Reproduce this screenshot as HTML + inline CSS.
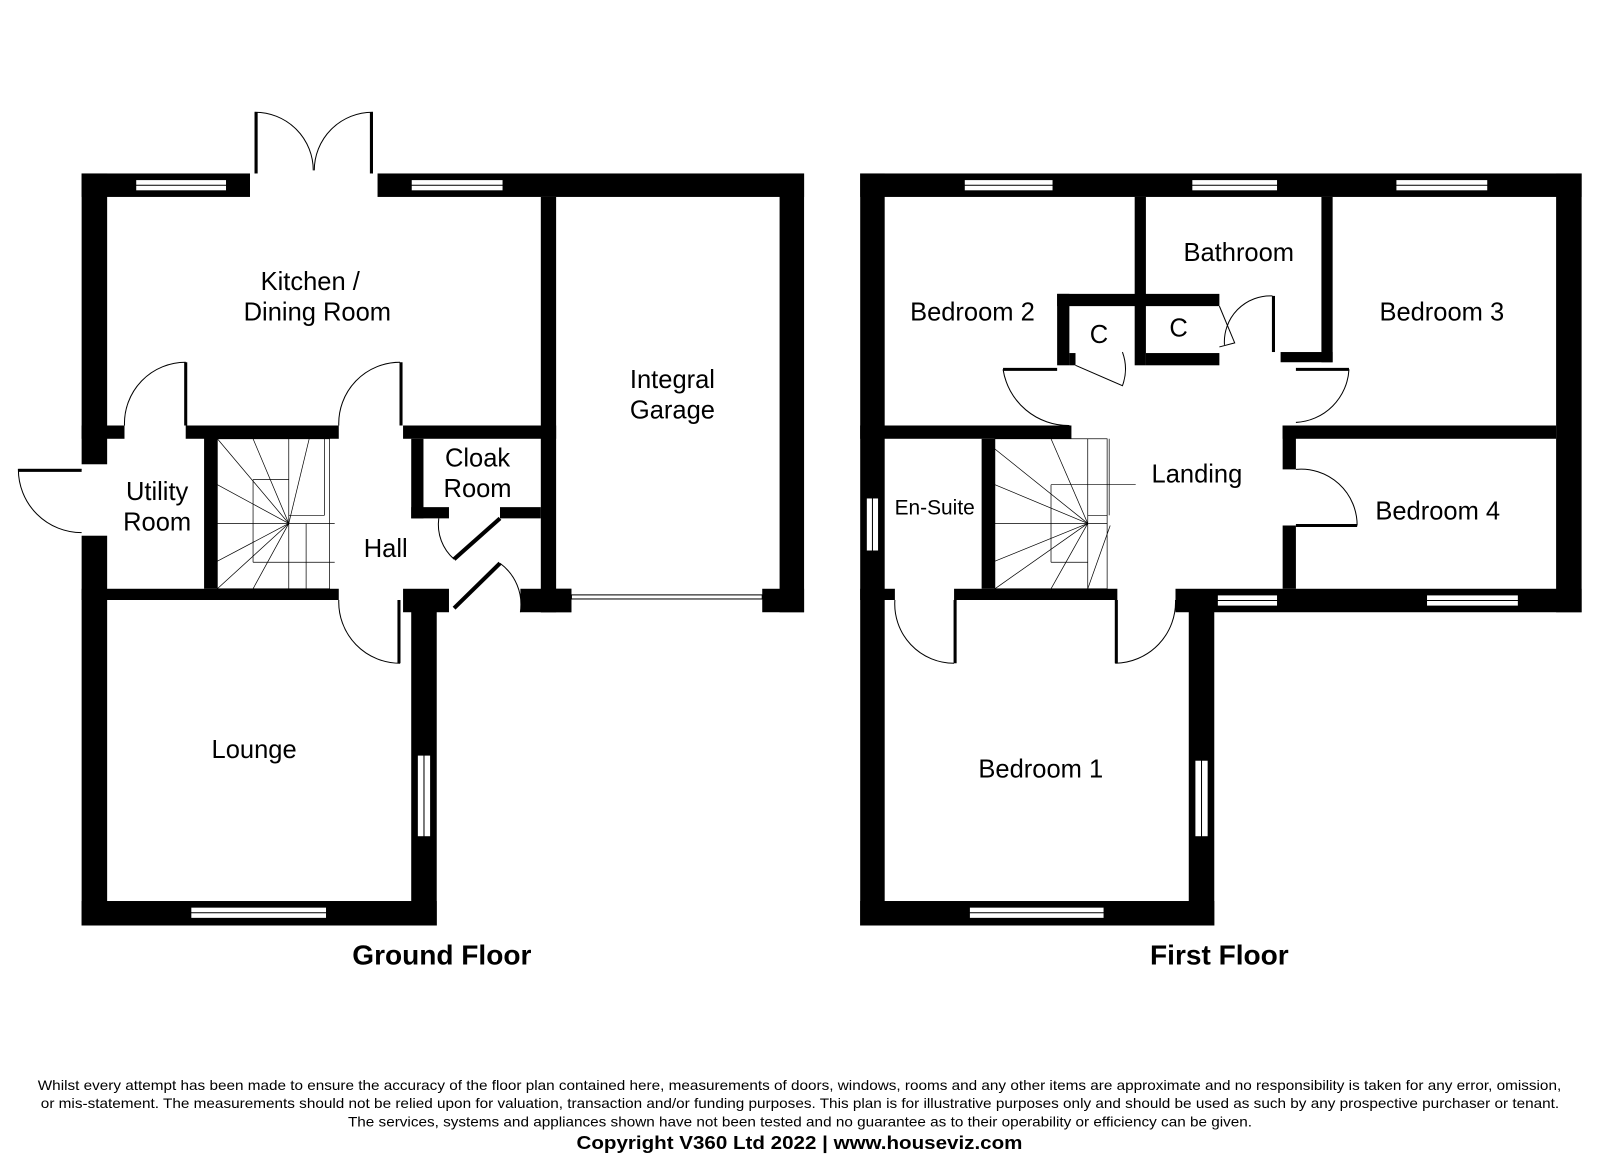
<!DOCTYPE html>
<html><head><meta charset="utf-8"><style>html,body{margin:0;padding:0;background:#fff}svg{display:block}</style></head>
<body>
<svg width="1600" height="1161" viewBox="0 0 1600 1161" xmlns="http://www.w3.org/2000/svg" font-family="Liberation Sans, sans-serif">
<g transform="scale(1.0204)">
<g fill="#000">
<rect x="80" y="170" width="165" height="23"/>
<rect x="370" y="170" width="418" height="23"/>
<rect x="80" y="170" width="25" height="285"/>
<rect x="80" y="525" width="25" height="382"/>
<rect x="764" y="170" width="24" height="430"/>
<rect x="530" y="193" width="15" height="407"/>
<rect x="530" y="577" width="30" height="23"/>
<rect x="747" y="577" width="41" height="23"/>
<rect x="182" y="417" width="150" height="13"/>
<rect x="395" y="417" width="150" height="13"/>
<rect x="80" y="417" width="42" height="13"/>
<rect x="200" y="417" width="13" height="160"/>
<rect x="80" y="577" width="252" height="11"/>
<rect x="403" y="430" width="12" height="78"/>
<rect x="403" y="497" width="37" height="11"/>
<rect x="490" y="497" width="40" height="11"/>
<rect x="395" y="577" width="45" height="23"/>
<rect x="510" y="577" width="50" height="23"/>
<rect x="403" y="588" width="25" height="319"/>
<rect x="80" y="883" width="348" height="24"/>
<rect x="843" y="170" width="707" height="23"/>
<rect x="843" y="170" width="24" height="737"/>
<rect x="1525" y="170" width="25" height="430"/>
<rect x="1152" y="577" width="398" height="23"/>
<rect x="1165" y="588" width="25" height="319"/>
<rect x="843" y="883" width="347" height="24"/>
<rect x="1112" y="193" width="11" height="97"/>
<rect x="1295" y="193" width="11" height="162"/>
<rect x="1255" y="345" width="51" height="10"/>
<rect x="1036" y="288" width="159" height="12"/>
<rect x="1036" y="288" width="12" height="70"/>
<rect x="1112" y="288" width="11" height="70"/>
<rect x="1123" y="346" width="72" height="12"/>
<rect x="1048" y="346" width="6" height="12"/>
<rect x="843" y="417" width="207" height="13"/>
<rect x="1257" y="417" width="268" height="13"/>
<rect x="1257" y="417" width="13" height="43"/>
<rect x="1257" y="515" width="13" height="62"/>
<rect x="962" y="430" width="13" height="147"/>
<rect x="843" y="577" width="34" height="11"/>
<rect x="935" y="577" width="160" height="11"/>
</g>
<g fill="#fff" stroke="#000" stroke-width="1">
<rect x="133" y="176" width="89" height="11"/><line x1="133" y1="181.5" x2="222" y2="181.5"/>
<rect x="403" y="176" width="90" height="11"/><line x1="403" y1="181.5" x2="493" y2="181.5"/>
<rect x="187" y="889" width="133" height="11"/><line x1="187" y1="894.5" x2="320" y2="894.5"/>
<rect x="409" y="740" width="13" height="80"/><line x1="415.5" y1="740" x2="415.5" y2="820"/>
<rect x="560" y="583" width="187" height="4"/>
<rect x="945" y="176" width="87" height="11"/><line x1="945" y1="181.5" x2="1032" y2="181.5"/>
<rect x="1168" y="176" width="84" height="11"/><line x1="1168" y1="181.5" x2="1252" y2="181.5"/>
<rect x="1368" y="176" width="90" height="11"/><line x1="1368" y1="181.5" x2="1458" y2="181.5"/>
<rect x="1193" y="583" width="59" height="11"/><line x1="1193" y1="588.5" x2="1252" y2="588.5"/>
<rect x="1398" y="583" width="90" height="11"/><line x1="1398" y1="588.5" x2="1488" y2="588.5"/>
<rect x="950" y="889" width="132" height="11"/><line x1="950" y1="894.5" x2="1082" y2="894.5"/>
<rect x="1171" y="745" width="13" height="75"/><line x1="1177.5" y1="745" x2="1177.5" y2="820"/>
<rect x="849" y="488" width="12" height="52"/><line x1="855" y1="488" x2="855" y2="540"/>
</g>
<g fill="none" stroke="#000" stroke-width="1">
<path d="M250 170 L250 110 A57 57 0 0 1 307 167"/>
<path d="M365 170 L365 110 A57 57 0 0 0 308 167"/>
<path d="M80 460 L18 460 A62 62 0 0 0 80 522"/>
<path d="M182 355 A60 60 0 0 0 122 417"/>
<path d="M392 355 A60 60 0 0 0 332 417"/>
<path d="M332 588 A60 60 0 0 0 392 650"/>
<path d="M430 508 A45 45 0 0 0 445 548"/>
<path d="M490 552 A50 50 0 0 1 510 600"/>
<path d="M983 362 A65 65 0 0 0 1048 417"/>
<path d="M1054 358 L1100 378 A48 48 0 0 0 1100 345"/>
<path d="M1195 300 L1210 336 L1195 340"/>
<path d="M1247 290 A45 45 0 0 0 1200 338"/>
<path d="M1322 362 A55 55 0 0 1 1270 414"/>
<path d="M1270 460 A55 55 0 0 1 1330 515"/>
<path d="M877 588 A58 58 0 0 0 935 650"/>
<path d="M1093 650 A60 60 0 0 0 1152 588"/>
</g>
<g stroke="#000" stroke-width="3">
<line x1="251" y1="110" x2="251" y2="170"/><line x1="364" y1="110" x2="364" y2="170"/>
<line x1="18" y1="461" x2="80" y2="461"/>
<line x1="182" y1="355" x2="182" y2="417"/>
<line x1="393" y1="355" x2="393" y2="417"/>
<line x1="391" y1="588" x2="391" y2="650"/>
<line x1="445" y1="548" x2="490" y2="508" stroke-width="4"/>
<line x1="445" y1="596" x2="490" y2="552" stroke-width="4"/>
<line x1="983" y1="362" x2="1036" y2="362"/>
<line x1="1248" y1="290" x2="1248" y2="345"/>
<line x1="1270" y1="362" x2="1322" y2="362"/>
<line x1="1270" y1="515" x2="1330" y2="515"/>
<line x1="936" y1="588" x2="936" y2="650"/>
<line x1="1094" y1="588" x2="1094" y2="650"/>
</g>
<g fill="none" stroke="#000" stroke-width="0.7">
<rect x="213" y="430" width="110" height="147"/>
<line x1="213" y1="513" x2="328" y2="513"/>
<line x1="248" y1="470" x2="248" y2="551"/>
<line x1="248" y1="470" x2="283" y2="470"/>
<line x1="283" y1="430" x2="283" y2="577"/>
<line x1="300" y1="513" x2="300" y2="577"/>
<line x1="318" y1="430" x2="318" y2="505"/>
<line x1="283" y1="505" x2="318" y2="505"/>
<line x1="248" y1="551" x2="328" y2="551"/>
<line x1="283" y1="513" x2="213" y2="430"/><line x1="283" y1="513" x2="248" y2="430"/><line x1="283" y1="513" x2="213" y2="475"/>
<line x1="283" y1="513" x2="213" y2="550"/><line x1="283" y1="513" x2="213" y2="577"/><line x1="283" y1="513" x2="248" y2="577"/>
<line x1="283" y1="513" x2="303" y2="430"/>
<rect x="975" y="430" width="110" height="147"/>
<line x1="975" y1="513" x2="1085" y2="513"/>
<line x1="1030" y1="475" x2="1030" y2="551"/>
<line x1="1030" y1="475" x2="1113" y2="475"/>
<line x1="1066" y1="430" x2="1066" y2="577"/>
<line x1="1087" y1="430" x2="1087" y2="505"/>
<line x1="1066" y1="505" x2="1085" y2="505"/>
<line x1="1030" y1="551" x2="1066" y2="551"/>
<line x1="1066" y1="513" x2="975" y2="440"/><line x1="1066" y1="513" x2="1030" y2="430"/><line x1="1066" y1="513" x2="975" y2="475"/>
<line x1="1066" y1="513" x2="975" y2="550"/><line x1="1066" y1="513" x2="975" y2="577"/><line x1="1066" y1="513" x2="1030" y2="577"/>
<line x1="1088" y1="515" x2="1066" y2="577"/>
</g>
<g font-size="25" text-anchor="middle" fill="#000">
<text x="304" y="284">Kitchen /</text><text x="311" y="314">Dining Room</text>
<text x="659" y="380">Integral</text><text x="659" y="410">Garage</text>
<text x="154" y="490">Utility</text><text x="154" y="520">Room</text>
<text x="468" y="457">Cloak</text><text x="468" y="487">Room</text>
<text x="378" y="546">Hall</text>
<text x="249" y="743">Lounge</text>
<text x="953" y="314">Bedroom 2</text>
<text x="1214" y="256">Bathroom</text>
<text x="1413" y="314">Bedroom 3</text>
<text x="1077" y="336">C</text><text x="1155" y="330">C</text>
<text x="1173" y="473">Landing</text>
<text x="1409" y="509">Bedroom 4</text>
<text x="916" y="504" font-size="20.5">En-Suite</text>
<text x="1020" y="762">Bedroom 1</text>
<text x="433" y="945" font-weight="bold" font-size="27.5">Ground Floor</text>
<text x="1195" y="945" font-weight="bold" font-size="27.5">First Floor</text>
</g>
<g font-size="13.5" fill="#000">
<text x="37" y="1068" textLength="1493" lengthAdjust="spacingAndGlyphs">Whilst every attempt has been made to ensure the accuracy of the floor plan contained here, measurements of doors, windows, rooms and any other items are approximate and no responsibility is taken for any error, omission,</text>
<text x="40" y="1086" textLength="1488" lengthAdjust="spacingAndGlyphs">or mis-statement. The measurements should not be relied upon for valuation, transaction and/or funding purposes. This plan is for illustrative purposes only and should be used as such by any prospective purchaser or tenant.</text>
<text x="341" y="1104" textLength="886" lengthAdjust="spacingAndGlyphs">The services, systems and appliances shown have not been tested and no guarantee as to their operability or efficiency can be given.</text>
<text x="565" y="1126" font-size="18" font-weight="bold" textLength="437" lengthAdjust="spacingAndGlyphs">Copyright V360 Ltd 2022 | www.houseviz.com</text>
</g>
</g>
</svg>
</body></html>
